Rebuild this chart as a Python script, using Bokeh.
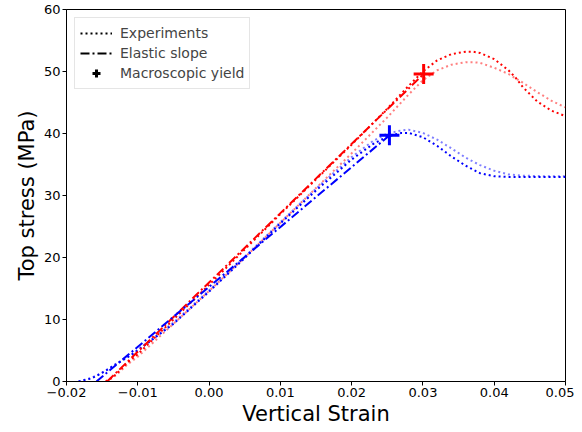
from bokeh.plotting import figure
from bokeh.models import FixedTicker, Legend, LegendItem, CustomJSTickFormatter
from bokeh.embed import file_html
from bokeh.resources import INLINE

# ---- data ----
red_dark_strain = [-0.0145, -0.0135, -0.0125, -0.0115, -0.010, -0.005, 0.000, 0.005, 0.010, 0.015,
                   0.020, 0.025, 0.028, 0.030, 0.032, 0.034, 0.036, 0.037, 0.038, 0.040,
                   0.042, 0.043, 0.044, 0.046, 0.048, 0.050]
red_dark_stress = [0.0, 0.7, 1.8, 3.0, 4.4, 10.0, 15.6, 21.3, 27.0, 32.6,
                   38.2, 44.0, 47.7, 50.0, 51.8, 52.8, 53.2, 53.2, 53.0, 52.0,
                   50.2, 49.0, 47.5, 45.2, 43.7, 42.8]

red_light_strain = [-0.0145, -0.0135, -0.0125, -0.0115, -0.010, -0.005, 0.000, 0.005, 0.010, 0.015,
                    0.020, 0.025, 0.028, 0.030, 0.032, 0.034, 0.036, 0.037, 0.038, 0.040,
                    0.042, 0.044, 0.046, 0.048, 0.050]
red_light_stress = [0.0, 0.6, 1.6, 2.7, 4.0, 9.3, 14.6, 20.0, 25.6, 31.2,
                    36.8, 42.6, 46.3, 48.6, 50.2, 51.1, 51.5, 51.5, 51.4, 50.6,
                    49.6, 48.2, 46.7, 45.3, 44.2]

blue_dark_strain = [-0.0183, -0.0165, -0.0153, -0.013, -0.0106, -0.005, 0.000, 0.005, 0.010, 0.015,
                    0.020, 0.023, 0.025, 0.027, 0.028, 0.030, 0.032, 0.034, 0.036, 0.038,
                    0.040, 0.042, 0.045, 0.050]
blue_dark_stress = [0.0, 0.5, 1.2, 2.8, 4.5, 9.3, 14.5, 19.9, 25.5, 30.8,
                    35.8, 38.3, 39.5, 40.1, 40.1, 39.4, 38.0, 36.3, 34.8, 33.6,
                    33.1, 33.0, 33.0, 33.0]

blue_light_strain = [-0.0183, -0.0165, -0.015, -0.013, -0.0106, -0.005, 0.000, 0.005, 0.010, 0.015,
                     0.020, 0.023, 0.025, 0.027, 0.028, 0.030, 0.032, 0.034, 0.036, 0.038,
                     0.040, 0.042, 0.044, 0.047, 0.050]
blue_light_stress = [0.0, 0.6, 1.4, 2.9, 4.6, 9.5, 14.7, 20.1, 25.7, 31.1,
                     36.2, 38.8, 40.0, 40.5, 40.6, 40.1, 39.0, 37.6, 36.1, 34.9,
                     34.0, 33.4, 33.2, 33.1, 33.1]

elastic_red_strain = [-0.0143, 0.0301]
elastic_red_stress = [0.0, 49.6]
elastic_blue_strain = [-0.0158, 0.0253]
elastic_blue_stress = [0.0, 39.7]

yield_red_strain = [0.0301]
yield_red_stress = [49.6]
yield_blue_strain = [0.0253]
yield_blue_stress = [39.7]

x_ticks = [-0.02, -0.01, 0.0, 0.01, 0.02, 0.03, 0.04, 0.05]
y_ticks = [0, 10, 20, 30, 40, 50, 60]
legend_labels = ["Experiments", "Elastic slope", "Macroscopic yield"]

# off-range placeholder so legend proxies have something to draw
proxy_x = [-1.0, -1.0]
proxy_y = [-1.0, -1.0]

FONT = "DejaVu Sans"
RED = "#ff0000"
BLUE = "#0000ff"
DOT = "2 3"
DASHDOT = "9 3 2 3"

p = figure(x_range=(-0.02, 0.05), y_range=(0, 60),
           width=574, height=428,
           min_border_left=66, min_border_top=9, min_border_right=9, min_border_bottom=47,
           output_backend="svg", toolbar_location=None)

# experiments
p.line(red_dark_strain, red_dark_stress, color=RED, line_width=2, line_dash=DOT)
p.line(red_light_strain, red_light_stress, color=RED, alpha=0.5, line_width=2, line_dash=DOT)
p.line(blue_dark_strain, blue_dark_stress, color=BLUE, line_width=2, line_dash=DOT)
p.line(blue_light_strain, blue_light_stress, color=BLUE, alpha=0.5, line_width=2, line_dash=DOT)

# elastic slopes
p.line(elastic_red_strain, elastic_red_stress, color=RED, line_width=2, line_dash=DASHDOT)
p.line(elastic_blue_strain, elastic_blue_stress, color=BLUE, line_width=2, line_dash=DASHDOT)

# yield points
p.scatter(yield_red_strain, yield_red_stress, marker="cross", size=20, line_width=3, color=RED)
p.scatter(yield_blue_strain, yield_blue_stress, marker="cross", size=20, line_width=3, color=BLUE)

# legend proxies
r_exp = p.line(proxy_x, proxy_y, color="black", line_width=2, line_dash=DOT)
r_el = p.line(proxy_x, proxy_y, color="black", line_width=2, line_dash=DASHDOT)
r_y = p.scatter(proxy_x[:1], proxy_y[:1], marker="cross", size=18, line_width=3, color="black")

legend = Legend(items=[LegendItem(label=legend_labels[0], renderers=[r_exp]),
                       LegendItem(label=legend_labels[1], renderers=[r_el]),
                       LegendItem(label=legend_labels[2], renderers=[r_y])],
                location="top_left")
legend.label_text_font = FONT
legend.label_text_font_size = "14px"
legend.glyph_width = 32
legend.glyph_height = 20
legend.label_height = 20
legend.label_standoff = 8
legend.spacing = 0
legend.padding = 5
legend.margin = 8
legend.border_line_color = "#cccccc"
legend.border_line_width = 1
legend.background_fill_alpha = 0.8
p.add_layout(legend)

# axes
p.xaxis.ticker = FixedTicker(ticks=x_ticks)
p.yaxis.ticker = FixedTicker(ticks=y_ticks)
p.xaxis.formatter = CustomJSTickFormatter(code="return tick.toFixed(2).replace('-', '\u2212');")
p.xaxis.axis_label = "Vertical Strain"
p.yaxis.axis_label = "Top stress (MPa)"
for ax in (p.xaxis, p.yaxis):
    ax.axis_line_color = "black"
    ax.major_tick_line_color = "black"
    ax.major_tick_out = 4
    ax.major_tick_in = 0
    ax.minor_tick_line_color = None
    ax.major_label_text_font = FONT
    ax.major_label_text_font_size = "13px"
    ax.major_label_text_color = "black"
    ax.major_label_standoff = 2
    ax.axis_label_text_font = FONT
    ax.axis_label_text_font_size = "21px"
    ax.axis_label_text_font_style = "normal"
    ax.axis_label_text_color = "black"
    ax.axis_label_standoff = 2

p.grid.visible = False
p.outline_line_color = "black"
p.outline_line_width = 1
p.outline_line_alpha = 1.0

open("out.html", "w").write(file_html(p, INLINE))
